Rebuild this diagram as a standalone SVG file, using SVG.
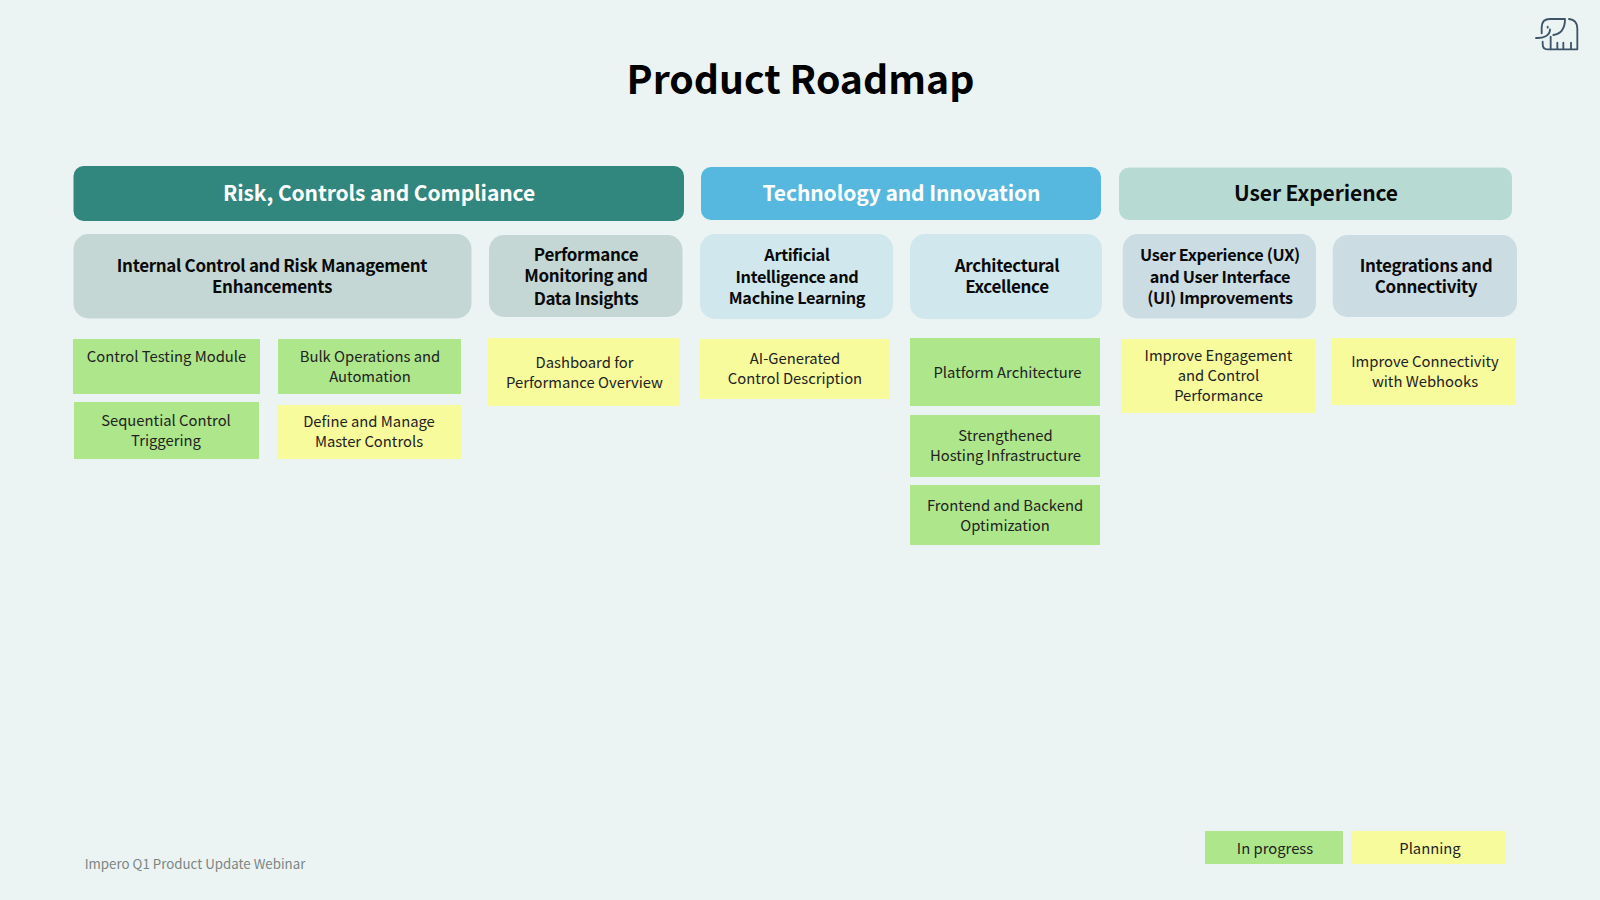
<svg xmlns="http://www.w3.org/2000/svg" width="1600" height="900" viewBox="0 0 1600 900">
<style>
text{font-family:"Noto Sans CJK SC","Noto Sans",sans-serif;text-anchor:middle}
.h{font-size:21px;font-weight:700;letter-spacing:-.1px}
.s{font-size:17px;font-weight:700;fill:#0a0a0a;letter-spacing:-.33px}
.n{font-size:16.300px}
.i{font-size:14.800px;fill:#222}
.g{fill:#aee68b}
.y{fill:#f7fb9c}
</style>
<rect width="1600" height="900" fill="#ebf4f3"/>
<text x="800.500" y="94" font-size="39.200" font-weight="700" fill="#000">Product Roadmap</text>
<g id="logo" transform="translate(1500 0) scale(.33333)" fill="none" stroke="#3d5468" stroke-width="5.500" stroke-linecap="round" stroke-linejoin="round">
<path d="M125 100V82Q125 57 150 57H195Q195 100 160 105"/>
<path d="M207 57Q232 60 232 85V148H213V128M213 148H190V128M190 148H172V128M172 148H152V110"/>
<path d="M152 148H142Q128 148 128 132V125"/>
<path d="M150 88C150 108 130 115 108 114"/>
<path d="M143 80V83"/>
</g>
<g id="h1"><rect x="73.500" y="166" width="610.500" height="55" rx="10" fill="#31867e"/><text class="h" x="379" y="200.500" fill="#fff">Risk, Controls and Compliance</text></g>
<g id="h2"><rect x="701" y="167" width="400" height="53" rx="10" fill="#56b8de"/><text class="h" x="901.500" y="200.500" fill="#fff">Technology and Innovation</text></g>
<g id="h3"><rect x="1119" y="167.500" width="393" height="52.500" rx="10" fill="#b7dbd3"/><text class="h" x="1316" y="200.500" fill="#0a0a0a">User Experience</text></g>
<g id="s1"><rect x="73.500" y="234" width="398" height="84.500" rx="15" fill="#c4d7d4"/><text class="s" x="272" y="272">Internal Control and Risk Management</text><text class="s" x="272" y="293">Enhancements</text></g>
<g id="s2"><rect x="489" y="235" width="193.500" height="82" rx="15" fill="#c4d7d4"/><text class="s" x="586" y="261">Performance</text><text class="s" x="586" y="282">Monitoring and</text><text class="s" x="586" y="305">Data Insights</text></g>
<g id="s3"><rect x="700" y="234" width="193" height="85" rx="15" fill="#d0e7ed"/><text class="s n" x="797" y="261">Artificial</text><text class="s n" x="797" y="283">Intelligence and</text><text class="s n" x="797" y="304">Machine Learning</text></g>
<g id="s4"><rect x="910" y="234" width="192" height="85" rx="15" fill="#d0e7ed"/><text class="s" x="1007" y="272">Architectural</text><text class="s" x="1007" y="293">Excellence</text></g>
<g id="s5"><rect x="1122.700" y="234" width="193.300" height="84.500" rx="15" fill="#ccdce3"/><text class="s n" x="1220" y="261">User Experience (UX)</text><text class="s n" x="1220" y="283">and User Interface</text><text class="s n" x="1220" y="304">(UI) Improvements</text></g>
<g id="s6"><rect x="1332.700" y="235" width="184.300" height="82" rx="15" fill="#ccdce3"/><text class="s" x="1426" y="272">Integrations and</text><text class="s" x="1426" y="293">Connectivity</text></g>
<g id="i1"><rect class="g" x="73" y="339" width="187" height="55"/><text class="i" x="166.500" y="362">Control Testing Module</text></g>
<g id="i2"><rect class="g" x="278" y="339" width="183" height="55"/><text class="i" x="370" y="362">Bulk Operations and</text><text class="i" x="370" y="382">Automation</text></g>
<g id="i3"><rect class="g" x="74" y="402" width="185" height="57"/><text class="i" x="166" y="426">Sequential Control</text><text class="i" x="166" y="446">Triggering</text></g>
<g id="i4"><rect class="y" x="277.500" y="405" width="183.500" height="54"/><text class="i" x="369" y="427">Define and Manage</text><text class="i" x="369" y="447">Master Controls</text></g>
<g id="i5"><rect class="y" x="487.500" y="338" width="192.500" height="68"/><text class="i" x="584.500" y="368">Dashboard for</text><text class="i" x="584.500" y="388">Performance Overview</text></g>
<g id="i6"><rect class="y" x="700" y="339" width="190" height="60"/><text class="i" x="795" y="364">AI-Generated</text><text class="i" x="795" y="384">Control Description</text></g>
<g id="i7"><rect class="g" x="910" y="338" width="190" height="68"/><text class="i" x="1007.500" y="378">Platform Architecture</text></g>
<g id="i8"><rect class="g" x="910" y="415" width="190" height="62"/><text class="i" x="1005.500" y="441">Strengthened</text><text class="i" x="1005.500" y="461">Hosting Infrastructure</text></g>
<g id="i9"><rect class="g" x="910" y="485" width="190" height="60"/><text class="i" x="1005" y="511">Frontend and Backend</text><text class="i" x="1005" y="531">Optimization</text></g>
<g id="i10"><rect class="y" x="1121" y="339" width="194" height="74"/><text class="i" x="1218.500" y="361">Improve Engagement</text><text class="i" x="1218.500" y="381">and Control</text><text class="i" x="1218.500" y="401">Performance</text></g>
<g id="i11"><rect class="y" x="1332" y="338" width="183" height="67"/><text class="i" x="1425" y="367">Improve Connectivity</text><text class="i" x="1425" y="387">with Webhooks</text></g>
<g id="connectors"/>
<g id="legend-progress"><rect class="g" x="1205" y="831" width="138" height="33"/><text class="i" x="1275" y="854">In progress</text></g>
<g id="legend-planning"><rect class="y" x="1351" y="831" width="155" height="33"/><text class="i" x="1430" y="854">Planning</text></g>
<text x="195" y="869" font-size="13.300" fill="#7b8583">Impero Q1 Product Update Webinar</text>
</svg>
